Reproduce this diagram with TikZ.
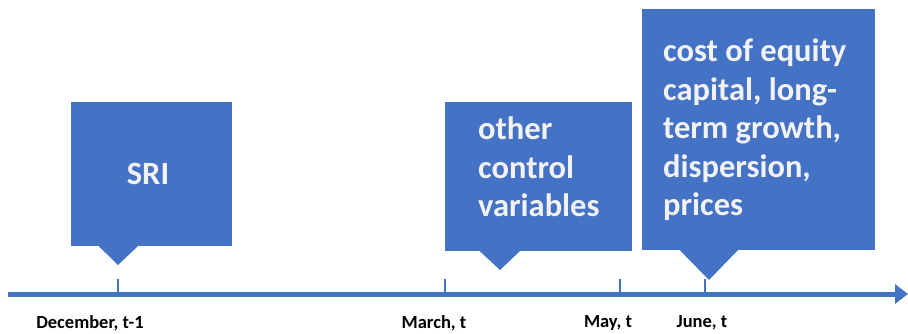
\documentclass[tikz,border=0pt]{standalone}
\usepackage{fontspec}
\setmainfont{Carlito}
\usetikzlibrary{arrows.meta}
\definecolor{callblue}{HTML}{4472C4}
\definecolor{calltext}{HTML}{F2F2F2}

\begin{document}
\begin{tikzpicture}[x=1pt,y=-1pt,
    callbox/.style={fill=callblue, inner sep=0pt},
    boxtext/.style={text=calltext, font=\bfseries\fontsize{32.5}{38.5}\selectfont, align=left, inner sep=0pt},
    datelabel/.style={font=\bfseries\fontsize{18.5}{20}\selectfont, inner sep=0pt},
    timeline/.style={callblue, line width=5pt, -{Triangle[length=13pt,width=19pt]}},
    tickmark/.style={callblue, line width=1.5pt}]
        \useasboundingbox (0,0) rectangle (908,334);

        % boxes
        \node[callbox, minimum width=161pt, minimum height=144pt] (srib) at (151.5,174) {};
        \node[callbox, minimum width=187pt, minimum height=149pt] (ctrlb) at (538.5,176.5) {};
        \node[callbox, minimum width=233pt, minimum height=241pt] (costb) at (758.5,129.5) {};

        % pointer tips
        \coordinate (sritip) at (118,265);
        \coordinate (ctrltip) at (500,270);
        \coordinate (costtip) at (709,280);

        \fill[callblue] ([xshift=28pt]srib.south west) -- (sritip) -- ([xshift=67pt]srib.south west) -- cycle;
        \fill[callblue] ([xshift=35pt]ctrlb.south west) -- (ctrltip) -- ([xshift=75pt]ctrlb.south west) -- cycle;
        \fill[callblue] ([xshift=38pt]costb.south west) -- (costtip) -- ([xshift=96pt]costb.south west) -- cycle;

        % texts
        \node[boxtext] (sri) at (148,174) {SRI};
        \node[boxtext, anchor=west] (ctrl) at (478,167) {other\\control\\variables};
        \node[boxtext, anchor=west] (cost) at (663,130) {cost of equity\\capital, long-\\term growth,\\dispersion,\\prices};

        % timeline
        \coordinate (start) at (8,294);
        \coordinate (end) at (908,294);
        \draw[timeline] (start) -- (end);

        \coordinate (dectop) at (118,279);
        \coordinate (decbot) at (118,294);
        \coordinate (martop) at (445,279);
        \coordinate (marbot) at (445,294);
        \coordinate (maytop) at (620,279);
        \coordinate (maybot) at (620,294);
        \coordinate (juntop) at (705,279);
        \coordinate (junbot) at (705,294);

        \draw[tickmark] (dectop) -- (decbot);
        \draw[tickmark] (martop) -- (marbot);
        \draw[tickmark] (maytop) -- (maybot);
        \draw[tickmark] (juntop) -- (junbot);

        % dates
        \node[datelabel] (dec) at (90,323) {December, t-1};
        \node[datelabel] (mar) at (434,323) {March, t};
        \node[datelabel] (may) at (608,323) {May, t};
        \node[datelabel] (jun) at (702,323) {June, t};
\end{tikzpicture}
\end{document}
